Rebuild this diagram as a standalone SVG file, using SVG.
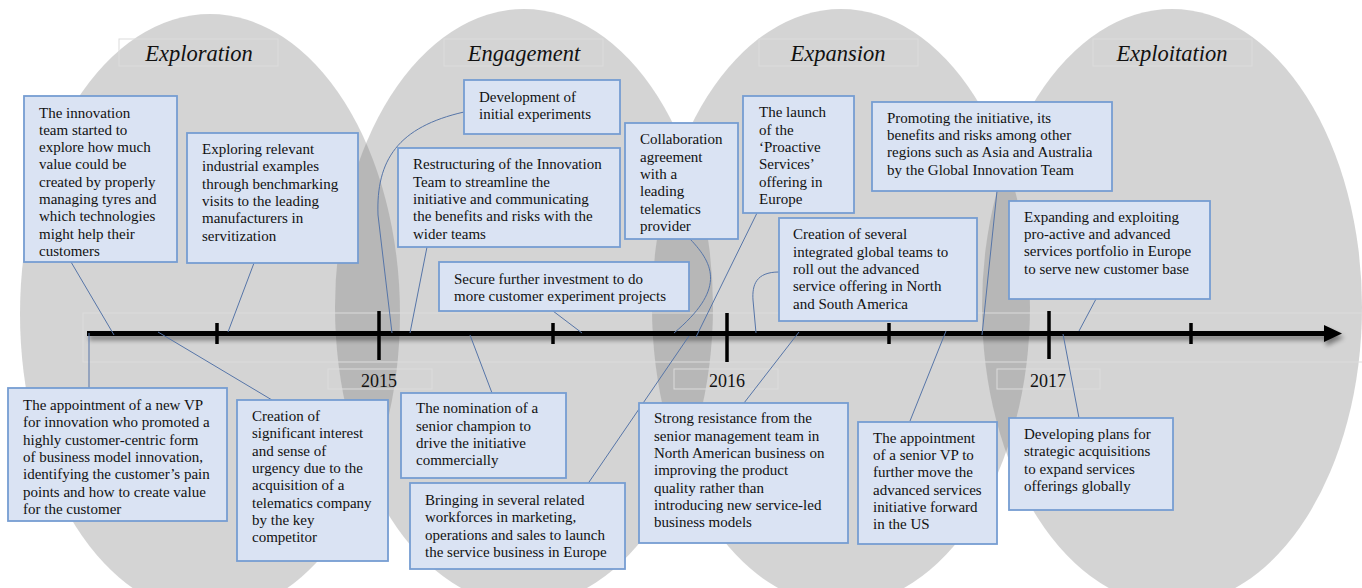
<svg xmlns="http://www.w3.org/2000/svg" width="1362" height="588" viewBox="0 0 1362 588">
<style>
.ph{fill:#808080;fill-opacity:0.34}
.lbl{fill:none;stroke:#dcdcdc;stroke-width:1}
.title{font-family:"Liberation Serif","Times New Roman",serif;font-style:italic;font-size:22.5px;fill:#111;text-anchor:middle}
.yr{font-family:"Liberation Serif","Times New Roman",serif;font-size:18px;fill:#111;text-anchor:middle}
.box{fill:#dae3f3;stroke:#769dd2;stroke-width:1.8}
.t{font-family:"Liberation Serif","Times New Roman",serif;font-size:15px;fill:#111}
.c{fill:none;stroke:#5675a8;stroke-width:1}
.tick{stroke:#000;stroke-width:3.5}
</style>
<defs>
<filter id="sh" x="-5%" y="-200%" width="110%" height="500%">
<feGaussianBlur in="SourceAlpha" stdDeviation="2.5"/>
<feOffset dx="2" dy="4" result="b"/>
<feComponentTransfer><feFuncA type="linear" slope="0.45"/></feComponentTransfer>
<feMerge><feMergeNode/><feMergeNode in="SourceGraphic"/></feMerge>
</filter>
</defs>
<rect width="1362" height="588" fill="#fff"/>
<g id="phases">
<ellipse class="ph" cx="210" cy="314" rx="190" ry="300"/>
<ellipse class="ph" cx="524" cy="307" rx="189" ry="298"/>
<ellipse class="ph" cx="841" cy="307" rx="189" ry="298"/>
<ellipse class="ph" cx="1172" cy="307" rx="190" ry="298"/>
<rect class="lbl" x="119" y="39" width="159" height="27"/>
<rect class="lbl" x="444" y="39" width="159" height="27"/>
<rect class="lbl" x="759" y="39" width="159" height="27"/>
<rect class="lbl" x="1093" y="39" width="159" height="27"/>
<text class="title" x="199" y="61">Exploration</text>
<text class="title" x="524" y="61">Engagement</text>
<text class="title" x="838" y="61">Expansion</text>
<text class="title" x="1172" y="61">Exploitation</text>
</g>
<g id="timeline">
<rect class="lbl" x="83" y="313" width="1290" height="49"/>
<g filter="url(#sh)">
<line x1="87" y1="333.5" x2="1326" y2="333.5" stroke="#000" stroke-width="5"/>
<polygon points="1324,325 1342,333.5 1324,342" fill="#000"/>
</g>
<line class="tick" x1="217" y1="323" x2="217" y2="344"/>
<line class="tick" x1="379" y1="311" x2="379" y2="360"/>
<line class="tick" x1="553" y1="323" x2="553" y2="344"/>
<line class="tick" x1="727" y1="313" x2="727" y2="362"/>
<line class="tick" x1="889" y1="323" x2="889" y2="344"/>
<line class="tick" x1="1049" y1="311" x2="1049" y2="359"/>
<line class="tick" x1="1191" y1="323" x2="1191" y2="344"/>
<rect class="lbl" x="328" y="369" width="104" height="20"/>
<rect class="lbl" x="674" y="369" width="104" height="20"/>
<rect class="lbl" x="997" y="369" width="103" height="20"/>
<text class="yr" x="379" y="387">2015</text>
<text class="yr" x="727" y="387">2016</text>
<text class="yr" x="1048" y="387">2017</text>
</g>
<g id="connectors">
<line class="c" x1="71" y1="262" x2="114" y2="335"/>
<line class="c" x1="254" y1="263" x2="228" y2="332"/>
<line class="c" x1="89" y1="388" x2="89" y2="333"/>
<line class="c" x1="272" y1="400" x2="158" y2="332"/>
<path class="c" d="M464,112 C398,127 376,160 378,215 L392,333"/>
<line class="c" x1="427" y1="247" x2="410" y2="333"/>
<line class="c" x1="553" y1="311" x2="582" y2="333"/>
<line class="c" x1="492" y1="393" x2="470" y2="335"/>
<path class="c" d="M690,239 C715,265 725,290 674,333"/>
<line class="c" x1="757" y1="213" x2="696" y2="337"/>
<line class="c" x1="587" y1="485" x2="689" y2="336"/>
<path class="c" d="M779,272 C756,272 752,285 753,300 L756,333"/>
<line class="c" x1="744" y1="403" x2="799" y2="332"/>
<line class="c" x1="997" y1="191" x2="982" y2="335"/>
<line class="c" x1="910" y1="421" x2="946" y2="331"/>
<line class="c" x1="1096" y1="299" x2="1079" y2="331"/>
<line class="c" x1="1079" y1="418" x2="1063" y2="334"/>
</g>
<g id="n-innovation-team">
<rect class="box" x="24" y="96" width="153" height="166"/>
<text class="t"><tspan x="39" y="117.5">The innovation</tspan><tspan x="39" dy="17.3">team started to</tspan><tspan x="39" dy="17.3">explore how much</tspan><tspan x="39" dy="17.3">value could be</tspan><tspan x="39" dy="17.3">created by properly</tspan><tspan x="39" dy="17.3">managing tyres and</tspan><tspan x="39" dy="17.3">which technologies</tspan><tspan x="39" dy="17.3">might help their</tspan><tspan x="39" dy="17.3">customers</tspan></text>
</g>
<g id="n-exploring">
<rect class="box" x="187" y="133" width="171" height="130"/>
<text class="t"><tspan x="202" y="154">Exploring relevant</tspan><tspan x="202" dy="17.3">industrial examples</tspan><tspan x="202" dy="17.3">through benchmarking</tspan><tspan x="202" dy="17.3">visits to the leading</tspan><tspan x="202" dy="17.3">manufacturers in</tspan><tspan x="202" dy="17.3">servitization</tspan></text>
</g>
<g id="n-development">
<rect class="box" x="464" y="80" width="156" height="54"/>
<text class="t"><tspan x="479" y="101.7">Development of</tspan><tspan x="479" dy="17.3">initial experiments</tspan></text>
</g>
<g id="n-restructuring">
<rect class="box" x="398" y="148" width="222" height="99"/>
<text class="t"><tspan x="413" y="169.3">Restructuring of the Innovation</tspan><tspan x="413" dy="17.3">Team to streamline the</tspan><tspan x="413" dy="17.3">initiative and communicating</tspan><tspan x="413" dy="17.3">the benefits and risks with the</tspan><tspan x="413" dy="17.3">wider teams</tspan></text>
</g>
<g id="n-secure">
<rect class="box" x="439" y="262" width="250" height="49"/>
<text class="t"><tspan x="454" y="283.5">Secure further investment to do</tspan><tspan x="454" dy="17.3">more customer experiment projects</tspan></text>
</g>
<g id="n-collaboration">
<rect class="box" x="625" y="123" width="113" height="116"/>
<text class="t"><tspan x="640" y="144.3">Collaboration</tspan><tspan x="640" dy="17.3">agreement</tspan><tspan x="640" dy="17.3">with a</tspan><tspan x="640" dy="17.3">leading</tspan><tspan x="640" dy="17.3">telematics</tspan><tspan x="640" dy="17.3">provider</tspan></text>
</g>
<g id="n-launch">
<rect class="box" x="743" y="96" width="111" height="117"/>
<text class="t"><tspan x="759" y="117.3">The launch</tspan><tspan x="759" dy="17.3">of the</tspan><tspan x="759" dy="17.3">‘Proactive</tspan><tspan x="759" dy="17.3">Services’</tspan><tspan x="759" dy="17.3">offering in</tspan><tspan x="759" dy="17.3">Europe</tspan></text>
</g>
<g id="n-promoting">
<rect class="box" x="872" y="102" width="240" height="89"/>
<text class="t"><tspan x="887" y="122.7">Promoting the initiative, its</tspan><tspan x="887" dy="17.3">benefits and risks among other</tspan><tspan x="887" dy="17.3">regions such as Asia and Australia</tspan><tspan x="887" dy="17.3">by the Global Innovation Team</tspan></text>
</g>
<g id="n-global-teams">
<rect class="box" x="779" y="218" width="198" height="103"/>
<text class="t"><tspan x="793" y="239.3">Creation of several</tspan><tspan x="793" dy="17.3">integrated global teams to</tspan><tspan x="793" dy="17.3">roll out the advanced</tspan><tspan x="793" dy="17.3">service offering in North</tspan><tspan x="793" dy="17.3">and South America</tspan></text>
</g>
<g id="n-expanding">
<rect class="box" x="1009" y="201" width="201" height="98"/>
<text class="t"><tspan x="1024" y="221.7">Expanding and exploiting</tspan><tspan x="1024" dy="17.3">pro-active and advanced</tspan><tspan x="1024" dy="17.3">services portfolio in Europe</tspan><tspan x="1024" dy="17.3">to serve new customer base</tspan></text>
</g>
<g id="n-new-vp">
<rect class="box" x="8" y="388" width="219" height="133"/>
<text class="t"><tspan x="23" y="410">The appointment of a new VP</tspan><tspan x="23" dy="17.3">for innovation who promoted a</tspan><tspan x="23" dy="17.3">highly customer-centric form</tspan><tspan x="23" dy="17.3">of business model innovation,</tspan><tspan x="23" dy="17.3">identifying the customer’s pain</tspan><tspan x="23" dy="17.3">points and how to create value</tspan><tspan x="23" dy="17.3">for the customer</tspan></text>
</g>
<g id="n-interest">
<rect class="box" x="237" y="400" width="151" height="161"/>
<text class="t"><tspan x="252" y="421">Creation of</tspan><tspan x="252" dy="17.3">significant interest</tspan><tspan x="252" dy="17.3">and sense of</tspan><tspan x="252" dy="17.3">urgency due to the</tspan><tspan x="252" dy="17.3">acquisition of a</tspan><tspan x="252" dy="17.3">telematics company</tspan><tspan x="252" dy="17.3">by the key</tspan><tspan x="252" dy="17.3">competitor</tspan></text>
</g>
<g id="n-nomination">
<rect class="box" x="401" y="393" width="165" height="85"/>
<text class="t"><tspan x="416" y="413.3">The nomination of a</tspan><tspan x="416" dy="17.3">senior champion to</tspan><tspan x="416" dy="17.3">drive the initiative</tspan><tspan x="416" dy="17.3">commercially</tspan></text>
</g>
<g id="n-bringing">
<rect class="box" x="410" y="483" width="215" height="86"/>
<text class="t"><tspan x="425" y="505">Bringing in several related</tspan><tspan x="425" dy="17.3">workforces in marketing,</tspan><tspan x="425" dy="17.3">operations and sales to launch</tspan><tspan x="425" dy="17.3">the service business in Europe</tspan></text>
</g>
<g id="n-resistance">
<rect class="box" x="639" y="403" width="209" height="140"/>
<text class="t"><tspan x="654" y="423.3">Strong resistance from the</tspan><tspan x="654" dy="17.3">senior management team in</tspan><tspan x="654" dy="17.3">North American business on</tspan><tspan x="654" dy="17.3">improving the product</tspan><tspan x="654" dy="17.3">quality rather than</tspan><tspan x="654" dy="17.3">introducing new service-led</tspan><tspan x="654" dy="17.3">business models</tspan></text>
</g>
<g id="n-senior-vp">
<rect class="box" x="858" y="422" width="139" height="122"/>
<text class="t"><tspan x="873" y="442.7">The appointment</tspan><tspan x="873" dy="17.3">of a senior VP to</tspan><tspan x="873" dy="17.3">further move the</tspan><tspan x="873" dy="17.3">advanced services</tspan><tspan x="873" dy="17.3">initiative forward</tspan><tspan x="873" dy="17.3">in the US</tspan></text>
</g>
<g id="n-acquisitions">
<rect class="box" x="1009" y="418" width="164" height="92"/>
<text class="t"><tspan x="1024" y="439">Developing plans for</tspan><tspan x="1024" dy="17.3">strategic acquisitions</tspan><tspan x="1024" dy="17.3">to expand services</tspan><tspan x="1024" dy="17.3">offerings globally</tspan></text>
</g>
</svg>
